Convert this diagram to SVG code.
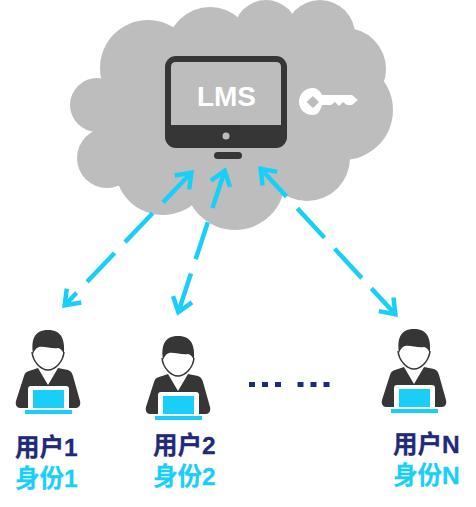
<svg xmlns="http://www.w3.org/2000/svg" width="476" height="507" viewBox="0 0 476 507">
<style>
.cl{fill:#bdbdbd}
.dk{fill:#363636}
.cy{fill:#1acff7}
.lnk{fill:none;stroke:#1acff7;stroke-width:4.5}
.t{font-family:"Liberation Sans","Noto Sans CJK SC",sans-serif;font-weight:700;font-size:24.500px;stroke-width:.3}
.nv{fill:#1f2a78;stroke:#1f2a78}
.ct{fill:#1acff7;stroke:#1acff7}
.dots{stroke:#1f2a78;stroke-width:5;fill:none}
</style>
<defs>
<marker id="ah" markerUnits="userSpaceOnUse" markerWidth="36" markerHeight="36" refX="-0.5" refY="0" viewBox="-18 -18 36 36" orient="auto-start-reverse">
<path d="M-15,-10 L-1.500,0 L-15,10" fill="none" stroke="#1acff7" stroke-width="4.500" stroke-miterlimit="8"/>
</marker>
<g id="person">
<path class="dk" d="M38,368 L48,385 L58,368 L68,370 C71,371 72,373 73,376 L80,401 C81,405 79,408 76,408 L20,408 C17,408 15,405 16,401 L24,376 C25,373 26,372 29,371 Z"/>
<rect x="28" y="386" width="41" height="25" rx="3" fill="#fff"/>
<rect class="cy" x="33" y="390" width="31" height="18"/>
<rect class="cy" x="25" y="410" width="47" height="4"/>
<path d="M32,352 C33,362 41,370 48,370 C55,370 63,362 64,352" fill="#fff" stroke="#363636" stroke-width="1.5"/>
<path class="dk" d="M33,354 C31,340 34,330 48,330 C62,330 65,340 64,354 C62,350 60,348 58,348 C52,349 44,346 39,347 C36,348 34,351 33,354 Z"/>
</g>
</defs>
<g id="cloud" class="cl">
<circle cx="148" cy="68" r="48"/>
<circle cx="97" cy="105" r="27"/>
<circle cx="107" cy="158" r="30"/>
<circle cx="163" cy="167" r="48"/>
<circle cx="235" cy="180" r="50"/>
<circle cx="307" cy="158" r="43"/>
<circle cx="343" cy="110" r="50"/>
<circle cx="345" cy="69" r="41"/>
<circle cx="320" cy="35" r="35"/>
<circle cx="266" cy="32" r="32"/>
<circle cx="210" cy="50" r="43"/>
<rect x="110" y="60" width="230" height="100"/>
<rect x="200" y="30" width="130" height="40"/>
</g>
<g id="monitor">
<rect class="dk" x="165" y="56" width="122" height="92" rx="11"/>
<path class="cl" d="M171,125 V67 Q171,62 176,62 H276 Q281,62 281,67 V125 Z"/>
<circle class="cl" cx="226" cy="136" r="3.5"/>
<rect class="dk" x="214" y="152" width="28" height="7" rx="3.5"/>
<text x="226.500" y="106" text-anchor="middle" font-family="Liberation Sans,sans-serif" font-weight="700" font-size="28" fill="#fff">LMS</text>
</g>
<g id="key">
<path fill="#fff" fill-rule="evenodd" d="M313,88 C317,88 320,91 322,95 L352,95 L358,100 L352,105 L347,105 L343,102 L339,106 L335,102 L331,105 L322,105 C320,112 317,115 313,115 C305,115 299,109 299,102 C299,94 305,88 313,88 Z M313,96 L306.500,102 L313,108 L319,102 Z"/>
</g>
<g id="connectors">
<path class="lnk" d="M192,172 L64,306" stroke-dasharray="42 15 40 15 40 15 60 0" marker-start="url(#ah)" marker-end="url(#ah)"/>
<path class="lnk" d="M225,170 L178,313" stroke-dasharray="40 15 39 15 60 0" marker-start="url(#ah)" marker-end="url(#ah)"/>
<path class="lnk" d="M260,168 L396,315" stroke-dasharray="39 16 40 15 40 14 60 0" marker-start="url(#ah)" marker-end="url(#ah)"/>
</g>
<g id="user1">
<use href="#person"/>
<text class="t nv" x="15" y="456">用户1</text>
<text class="t ct" x="15" y="487">身份1</text>
</g>
<g id="user2">
<use href="#person" x="130" y="6"/>
<text class="t nv" x="153" y="454">用户2</text>
<text class="t ct" x="153" y="485">身份2</text>
</g>
<g id="userN">
<use href="#person" x="366" y="-1"/>
<text class="t nv" x="393" y="453">用户N</text>
<text class="t ct" x="393" y="484">身份N</text>
</g>
<g id="ellipsis">
<path class="dots" d="M249,384.500 H282" stroke-dasharray="6 7"/>
<path class="dots" d="M297.500,384.500 H330" stroke-dasharray="6 7"/>
</g>
</svg>
